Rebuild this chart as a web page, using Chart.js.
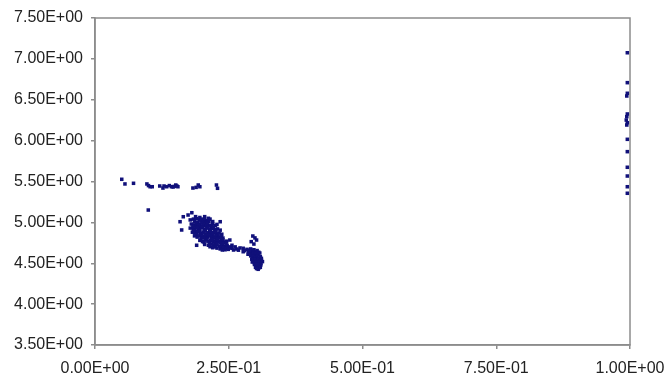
<!DOCTYPE html>
<html>
<head>
<meta charset="utf-8">
<script src="https://cdn.jsdelivr.net/npm/chart.js@4.4.1/dist/chart.umd.min.js"></script>
<style>
  html, body { margin: 0; padding: 0; background: #ffffff; }
  #wrap { width: 666px; height: 379px; position: relative; }
</style>
</head>
<body>
<div id="wrap"><canvas id="c" width="666" height="379"></canvas></div>
<script>
// ---- Data ----
const xTicks = [0, 0.25, 0.5, 0.75, 1.0];
const xTickLabels = ['0.00E+00', '2.50E-01', '5.00E-01', '7.50E-01', '1.00E+00'];
const yTicks = [3.5, 4.0, 4.5, 5.0, 5.5, 6.0, 6.5, 7.0, 7.5];
const yTickLabels = ['3.50E+00', '4.00E+00', '4.50E+00', '5.00E+00', '5.50E+00', '6.00E+00', '6.50E+00', '7.00E+00', '7.50E+00'];

// upper scattered row near y = 5.45
const rowX = [0.050, 0.056, 0.072, 0.097, 0.100, 0.103, 0.107, 0.121, 0.127, 0.129, 0.134, 0.139, 0.143, 0.146, 0.148, 0.151, 0.153, 0.155, 0.183, 0.189, 0.193, 0.196, 0.227, 0.229, 0.0996];
const rowY = [5.527, 5.470, 5.478, 5.470, 5.450, 5.436, 5.436, 5.445, 5.420, 5.445, 5.436, 5.450, 5.436, 5.433, 5.440, 5.457, 5.445, 5.436, 5.420, 5.428, 5.457, 5.436, 5.457, 5.417, 5.151];

// main dense cluster
const clusterX = [
  0.181,0.174,0.165,0.188,0.196,0.205,0.212,
  0.159,0.178,0.184,0.190,0.195,0.200,0.205,0.210,0.215,0.220,0.186,0.192,0.198,0.203,0.208,0.213,0.234,
  0.180,0.185,0.190,0.195,0.200,0.205,0.210,0.215,0.220,0.225,0.188,0.197,0.203,0.212,0.218,0.183,0.193,0.208,0.228,
  0.162,0.178,0.184,0.189,0.194,0.199,0.204,0.209,0.214,0.219,0.224,0.229,0.186,0.196,0.206,0.216,0.226,0.234,0.191,0.201,0.211,0.221,
  0.182,0.187,0.192,0.197,0.202,0.207,0.212,0.217,0.222,0.227,0.232,0.237,0.190,0.200,0.210,0.220,0.230,0.195,0.215,0.225,
  0.186,0.191,0.196,0.201,0.206,0.211,0.216,0.221,0.226,0.231,0.236,0.239,0.198,0.208,0.218,0.228,0.213,0.203,0.223,0.233,
  0.196,0.201,0.206,0.211,0.216,0.221,0.226,0.231,0.236,0.241,0.246,0.252,0.190,0.204,0.214,0.224,0.234,0.244,0.209,0.219,0.229,0.239,
  0.205,0.212,0.218,0.222,0.227,0.232,0.237,0.242,0.247,0.251,0.215,0.225,0.235,0.245,0.256,0.228,0.238,
  0.220,0.228,0.234,0.240,0.246,0.252,0.256,0.243,0.238,0.249,
  0.259,0.265,0.271,0.277,0.262,0.268
];
const clusterY = [
  5.118,5.090,5.069,5.070,5.060,5.070,5.050,
  5.008,5.030,5.040,5.045,5.030,5.040,5.035,5.020,5.040,5.010,5.010,5.000,5.015,5.005,5.000,5.010,5.008,
  4.980,4.970,4.985,4.975,4.990,4.970,4.985,4.965,4.980,4.960,4.955,4.950,4.960,4.955,4.950,4.950,4.965,4.960,4.975,
  4.907,4.930,4.915,4.930,4.920,4.935,4.915,4.930,4.910,4.925,4.910,4.920,4.900,4.905,4.900,4.900,4.900,4.905,4.940,4.945,4.940,4.940,
  4.880,4.870,4.885,4.865,4.880,4.860,4.875,4.860,4.875,4.860,4.870,4.855,4.855,4.850,4.852,4.850,4.850,4.890,4.890,4.885,
  4.835,4.820,4.840,4.825,4.840,4.820,4.835,4.820,4.835,4.820,4.830,4.809,4.805,4.800,4.805,4.800,4.845,4.810,4.810,4.810,
  4.780,4.765,4.785,4.770,4.780,4.765,4.780,4.765,4.775,4.760,4.770,4.784,4.720,4.755,4.750,4.752,4.750,4.755,4.795,4.790,4.792,4.790,
  4.730,4.720,4.735,4.715,4.730,4.710,4.725,4.710,4.720,4.700,4.702,4.700,4.700,4.740,4.720,4.745,4.740,
  4.690,4.685,4.675,4.690,4.680,4.690,4.683,4.665,4.662,4.670,
  4.662,4.674,4.687,4.641,4.700,4.660
];

// second cluster near x = 0.30
const secondX = [
  0.295,0.292,0.297,0.302,0.299,0.277,0.280,0.284,
  0.288,0.291,0.294,0.297,0.300,0.303,0.306,0.290,0.293,0.296,0.299,0.302,0.305,0.308,0.287,0.286,
  0.291,0.294,0.297,0.300,0.303,0.306,0.309,0.311,0.293,0.296,0.299,0.302,0.305,0.308,0.311,0.294,0.298,0.301,0.304,0.307,0.310,0.313,
  0.298,0.301,0.304,0.307,0.310,0.300,0.303,0.306,0.309,0.305,0.302
];
const secondY = [
  4.833,4.764,4.735,4.784,4.810,4.683,4.654,4.670,
  4.660,4.675,4.650,4.665,4.640,4.655,4.635,4.630,4.615,4.625,4.605,4.620,4.610,4.625,4.645,4.610,
  4.590,4.575,4.590,4.570,4.585,4.565,4.580,4.560,4.550,4.535,4.550,4.530,4.545,4.525,4.540,4.515,4.505,4.515,4.500,4.510,4.500,4.520,
  4.485,4.470,4.485,4.465,4.480,4.450,4.455,4.440,4.450,4.426,4.435
];

// points on the right edge, near x = 1.0
const edgeX = [0.995, 0.995, 0.995, 0.994, 0.995, 0.994, 0.993, 0.995, 0.994, 0.995, 0.995, 0.995, 0.995, 0.995, 0.995];
const edgeY = [7.075, 6.709, 6.579, 6.546, 6.326, 6.293, 6.252, 6.219, 6.191, 6.016, 5.865, 5.674, 5.567, 5.436, 5.356];

// ---- Build points ----
function zip(xs, ys) { return xs.map((x, i) => ({ x: x, y: ys[i] })); }
const points = [].concat(zip(rowX, rowY), zip(clusterX, clusterY), zip(secondX, secondY), zip(edgeX, edgeY));

const frame = {
  id: 'frame',
  beforeDatasetsDraw(chart) {
    const a = chart.chartArea, ctx = chart.ctx;
    ctx.save();
    ctx.strokeStyle = '#8c8c8c';
    ctx.lineWidth = 1.5;
    ctx.strokeRect(a.left, a.top, a.right - a.left, a.bottom - a.top);
    ctx.restore();
  }
};

const labelFont = { family: 'Liberation Sans, Arial, sans-serif', size: 16 };

new Chart(document.getElementById('c'), {
  type: 'scatter',
  data: {
    datasets: [{
      data: points,
      pointStyle: 'rect',
      pointRadius: 2.5,
      pointHoverRadius: 2.5,
      pointBorderWidth: 0,
      backgroundColor: '#10107a',
      borderColor: '#10107a',
      clip: false
    }]
  },
  options: {
    responsive: false,
    animation: false,
    events: [],
    layout: { padding: { left: 0, top: 18, right: 36, bottom: 0 } },
    plugins: { legend: { display: false }, tooltip: { enabled: false } },
    scales: {
      x: {
        type: 'linear',
        min: 0, max: 1,
        afterBuildTicks(s) { s.ticks = xTicks.map(v => ({ value: v })); },
        afterFit(s) { s.height = 34; s.paddingLeft = 0; s.paddingRight = 0; },
        ticks: {
          color: '#222222', font: labelFont, padding: 10, maxRotation: 0,
          callback: (v) => { const i = xTicks.indexOf(v); return i >= 0 ? xTickLabels[i] : ''; }
        },
        grid: { drawOnChartArea: false, drawTicks: true, tickLength: 4, color: '#8c8c8c', lineWidth: 1.5 },
        border: { display: true, color: '#8c8c8c', width: 1.5 }
      },
      y: {
        type: 'linear',
        min: 3.5, max: 7.5,
        afterBuildTicks(s) { s.ticks = yTicks.map(v => ({ value: v })); },
        afterFit(s) { s.width = 95; s.paddingTop = 0; s.paddingBottom = 0; },
        ticks: {
          color: '#222222', font: labelFont, padding: 8,
          callback: (v) => { const i = yTicks.indexOf(v); return i >= 0 ? yTickLabels[i] : ''; }
        },
        grid: { drawOnChartArea: false, drawTicks: true, tickLength: 4, color: '#8c8c8c', lineWidth: 1.5 },
        border: { display: true, color: '#8c8c8c', width: 1.5 }
      }
    }
  },
  plugins: [frame]
});
</script>
</body>
</html>
